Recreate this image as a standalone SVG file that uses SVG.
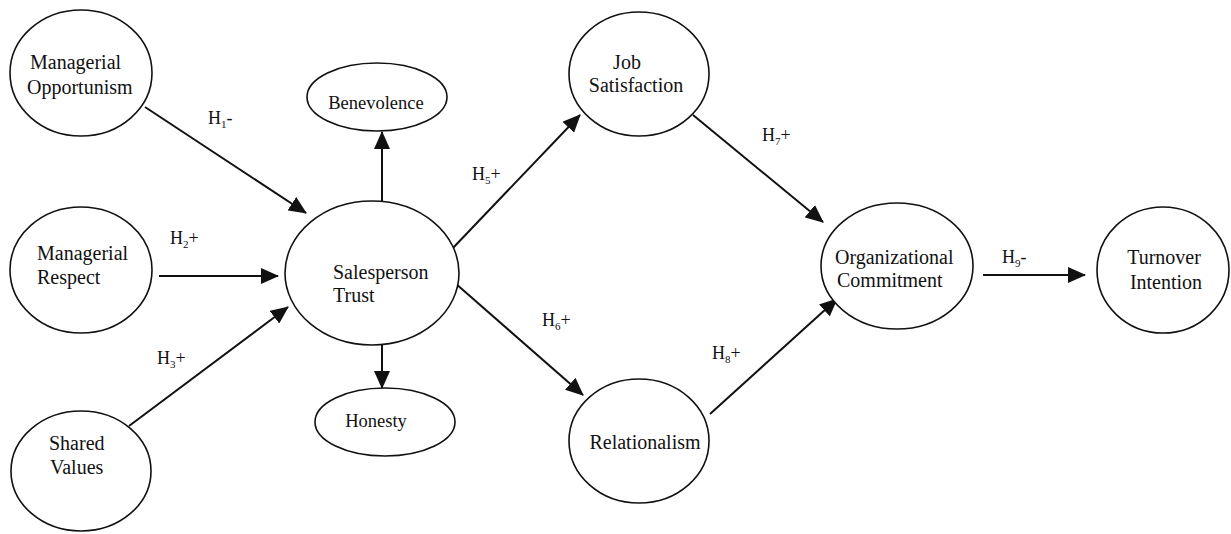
<svg xmlns="http://www.w3.org/2000/svg" width="1231" height="534" viewBox="0 0 1231 534">
<defs>
<style>
.n{fill:#fff;stroke:#111;stroke-width:1.6}
.t{font-family:"Liberation Serif","Times New Roman",serif;font-size:20px;fill:#111}
.s{font-family:"Liberation Serif","Times New Roman",serif;font-size:18.5px;fill:#111}
.l{font-family:"Liberation Serif","Times New Roman",serif;font-size:18px;fill:#111}
.sub{font-size:11px}
.c{stroke:#111;stroke-width:2;fill:none;marker-end:url(#ah)}
</style>
<marker id="ah" viewBox="0 0 18 16" markerWidth="18" markerHeight="16" refX="17" refY="8" orient="auto" markerUnits="userSpaceOnUse">
<path d="M0,0 L18,8 L0,16 z" fill="#111"/>
</marker>
</defs>
<rect width="1231" height="534" fill="#fff"/>
<g id="connectors">
<line class="c" x1="145" y1="107" x2="306" y2="213"/>
<line class="c" x1="159" y1="276" x2="278" y2="276"/>
<line class="c" x1="129" y1="426" x2="288" y2="307"/>
<line class="c" x1="382" y1="203" x2="382" y2="132"/>
<line class="c" x1="382" y1="345" x2="382" y2="388"/>
<line class="c" x1="452" y1="249" x2="580" y2="115"/>
<line class="c" x1="455" y1="283" x2="583" y2="395"/>
<line class="c" x1="693" y1="115" x2="823" y2="222"/>
<line class="c" x1="710" y1="414" x2="837" y2="299"/>
<line class="c" x1="983" y1="275" x2="1085" y2="275"/>
</g>
<g id="labels">
<text class="l" x="208" y="124">H<tspan class="sub" dy="4">1</tspan><tspan dy="-4">-</tspan></text>
<text class="l" x="170" y="244">H<tspan class="sub" dy="4">2</tspan><tspan dy="-4">+</tspan></text>
<text class="l" x="157" y="364">H<tspan class="sub" dy="4">3</tspan><tspan dy="-4">+</tspan></text>
<text class="l" x="472" y="180">H<tspan class="sub" dy="4">5</tspan><tspan dy="-4">+</tspan></text>
<text class="l" x="542" y="326">H<tspan class="sub" dy="4">6</tspan><tspan dy="-4">+</tspan></text>
<text class="l" x="762" y="141">H<tspan class="sub" dy="4">7</tspan><tspan dy="-4">+</tspan></text>
<text class="l" x="712" y="359">H<tspan class="sub" dy="4">8</tspan><tspan dy="-4">+</tspan></text>
<text class="l" x="1002" y="263">H<tspan class="sub" dy="4">9</tspan><tspan dy="-4">-</tspan></text>
</g>
<g id="managerial-opportunism">
<ellipse class="n" cx="81" cy="73" rx="71" ry="63"/>
<text class="t" x="30" y="69">Managerial</text>
<text class="t" x="27" y="94">Opportunism</text>
</g>
<g id="managerial-respect">
<ellipse class="n" cx="81" cy="270" rx="71" ry="63"/>
<text class="t" x="37" y="260">Managerial</text>
<text class="t" x="37" y="284">Respect</text>
</g>
<g id="shared-values">
<ellipse class="n" cx="81" cy="471" rx="70" ry="60"/>
<text class="t" x="49" y="450">Shared</text>
<text class="t" x="50" y="474">Values</text>
</g>
<g id="salesperson-trust">
<ellipse class="n" cx="372" cy="273" rx="87" ry="72"/>
<text class="t" x="333" y="279">Salesperson</text>
<text class="t" x="333" y="302">Trust</text>
</g>
<g id="benevolence">
<ellipse class="n" cx="377" cy="97" rx="70" ry="34"/>
<text class="s" x="376" y="109" text-anchor="middle">Benevolence</text>
</g>
<g id="honesty">
<ellipse class="n" cx="385" cy="422" rx="70" ry="34"/>
<text class="s" x="376" y="427" text-anchor="middle">Honesty</text>
</g>
<g id="job-satisfaction">
<ellipse class="n" cx="639" cy="74" rx="70" ry="62"/>
<text class="t" x="627" y="69" text-anchor="middle">Job</text>
<text class="t" x="636" y="92" text-anchor="middle">Satisfaction</text>
</g>
<g id="relationalism">
<ellipse class="n" cx="639" cy="441" rx="70" ry="62"/>
<text class="t" x="645" y="449" text-anchor="middle">Relationalism</text>
</g>
<g id="organizational-commitment">
<ellipse class="n" cx="897" cy="266" rx="76" ry="63"/>
<text class="t" x="835" y="264">Organizational</text>
<text class="t" x="837" y="287">Commitment</text>
</g>
<g id="turnover-intention">
<ellipse class="n" cx="1163" cy="270" rx="66" ry="63"/>
<text class="t" x="1164" y="264" text-anchor="middle">Turnover</text>
<text class="t" x="1166" y="289" text-anchor="middle">Intention</text>
</g>
</svg>
